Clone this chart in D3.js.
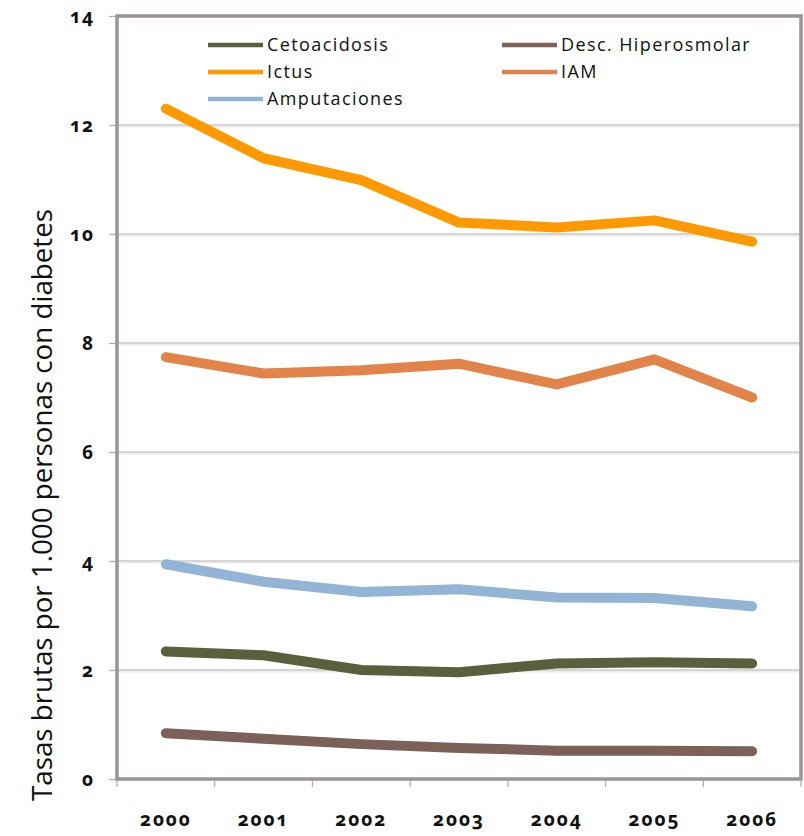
<!DOCTYPE html>
<html>
<head>
<meta charset="utf-8">
<script src="https://cdn.jsdelivr.net/npm/d3@7"></script>
<style>
  html, body { margin: 0; padding: 0; background: #fff; }
  svg { display: block; }
</style>
</head>
<body>
<svg id="chart" width="804" height="836"></svg>
<script>
// Years on the horizontal axis
const years = ["2000", "2001", "2002", "2003", "2004", "2005", "2006"];

// Crude rates per 1,000 people with diabetes
const cetoacidosis = [2.34, 2.27, 2.00, 1.96, 2.12, 2.14, 2.12];
const descHiperosmolar = [0.84, 0.74, 0.64, 0.57, 0.52, 0.52, 0.51];
const ictus = [12.30, 11.39, 10.99, 10.21, 10.12, 10.25, 9.86];
const iam = [7.74, 7.44, 7.50, 7.62, 7.24, 7.70, 7.00];
const amputaciones = [3.94, 3.62, 3.43, 3.48, 3.33, 3.32, 3.17];

// Y-axis tick values
const yTicks = [0, 2, 4, 6, 8, 10, 12, 14];

const seriesNames = ["Cetoacidosis", "Desc. Hiperosmolar", "Ictus", "IAM", "Amputaciones"];
const seriesValues = [cetoacidosis, descHiperosmolar, ictus, iam, amputaciones];
const seriesColors = ["#5a5f3e", "#7b6157", "#ff9900", "#e2834a", "#93b4d4"];

const series = seriesNames.map((name, i) => ({
  name, color: seriesColors[i],
  values: seriesValues[i].map((v, j) => ({ year: years[j], value: v }))
}));

const svg = d3.select("#chart");
const plotLeft = 117, plotRight = 801, plotTop = 16, plotBottom = 779;

const x = d3.scaleBand().domain(years).range([plotLeft, plotRight]).padding(0);
const y = d3.scaleLinear().domain([0, 14]).range([plotBottom, plotTop]);

const frameColor = "#9c9494";
const gridColor = "#c9c9c9";

// Horizontal gridlines
const grid = svg.append("g");
yTicks.filter(t => t > 0 && t < 14).forEach(t => {
  grid.append("line")
    .attr("x1", plotLeft).attr("x2", plotRight)
    .attr("y1", y(t) + 1.5).attr("y2", y(t) + 1.5)
    .attr("stroke", "#ececec").attr("stroke-width", 2);
  grid.append("line")
    .attr("x1", plotLeft).attr("x2", plotRight)
    .attr("y1", y(t)).attr("y2", y(t))
    .attr("stroke", gridColor).attr("stroke-width", 1.5);
});

// Y axis
const yAxis = svg.append("g")
  .attr("transform", `translate(${plotLeft},0)`)
  .call(d3.axisLeft(y).tickValues(yTicks).tickSize(8).tickPadding(15).tickFormat(d3.format("d")));
yAxis.select(".domain").remove();
yAxis.selectAll(".tick line").attr("stroke", "#aaaaaa").attr("stroke-width", 1.2);
yAxis.selectAll(".tick text")
  .attr("fill", "#111")
  .style("font-family", "'Open Sans', 'DejaVu Sans', sans-serif")
  .style("font-weight", "bold")
  .style("font-size", "19px")
  .style("letter-spacing", "1px")
  .style("font-variant-numeric", "oldstyle-nums");

// X axis with ticks on category boundaries
const xAxis = svg.append("g")
  .attr("transform", `translate(0,${plotBottom})`)
  .call(d3.axisBottom(x).tickSize(0).tickPadding(34));
xAxis.select(".domain").remove();
xAxis.selectAll(".tick text")
  .attr("fill", "#111")
  .style("font-family", "'Open Sans', 'DejaVu Sans', sans-serif")
  .style("font-weight", "bold")
  .style("font-size", "19px")
  .style("letter-spacing", "2px")
  .style("font-variant-numeric", "oldstyle-nums");
const boundaries = years.map(yr => x(yr)).concat([plotRight]);
svg.append("g").selectAll("line").data(boundaries).join("line")
  .attr("x1", d => d).attr("x2", d => d)
  .attr("y1", plotBottom).attr("y2", plotBottom + 8)
  .attr("stroke", "#aaaaaa").attr("stroke-width", 1.2);

// Plot frame
svg.append("rect")
  .attr("x", plotLeft).attr("y", plotTop)
  .attr("width", plotRight - plotLeft).attr("height", plotBottom - plotTop)
  .attr("fill", "none").attr("stroke", frameColor).attr("stroke-width", 3.5);

// Series lines
const line = d3.line()
  .x(d => x(d.year) + x.bandwidth() / 2)
  .y(d => y(d.value))
  .curve(d3.curveLinear);

svg.append("g").selectAll("path").data(series).join("path")
  .attr("d", d => line(d.values))
  .attr("fill", "none")
  .attr("stroke", d => d.color)
  .attr("stroke-width", 10)
  .attr("stroke-linecap", "round")
  .attr("stroke-linejoin", "round");

// Legend
const legendPos = [
  [208, 45], [502, 45], [208, 72], [502, 72], [208, 99]
];
const legend = svg.append("g");
series.forEach((s, i) => {
  const [lx, ly] = legendPos[i];
  legend.append("line")
    .attr("x1", lx).attr("x2", lx + 55)
    .attr("y1", ly).attr("y2", ly)
    .attr("stroke", s.color).attr("stroke-width", 4.5);
  legend.append("text")
    .attr("x", lx + 59).attr("y", ly)
    .attr("dy", "0.35em")
    .attr("fill", "#111")
    .style("font-family", "'Open Sans', 'DejaVu Sans', sans-serif")
    .style("font-size", "18px")
    .style("letter-spacing", "1.4px")
    .text(s.name);
});

// Y-axis title, sized to span the axis height
const title = svg.append("text")
  .attr("transform", "translate(42,505) rotate(-90)")
  .attr("text-anchor", "middle")
  .attr("dy", "0.35em")
  .attr("fill", "#111")
  .style("font-family", "'Open Sans', 'DejaVu Sans', sans-serif")
  .style("font-size", "25px")
  .text("Tasas brutas por 1.000 personas con diabetes");
const len = title.node().getComputedTextLength();
title.style("font-size", (25 * 592 / len).toFixed(2) + "px");
</script>
</body>
</html>
